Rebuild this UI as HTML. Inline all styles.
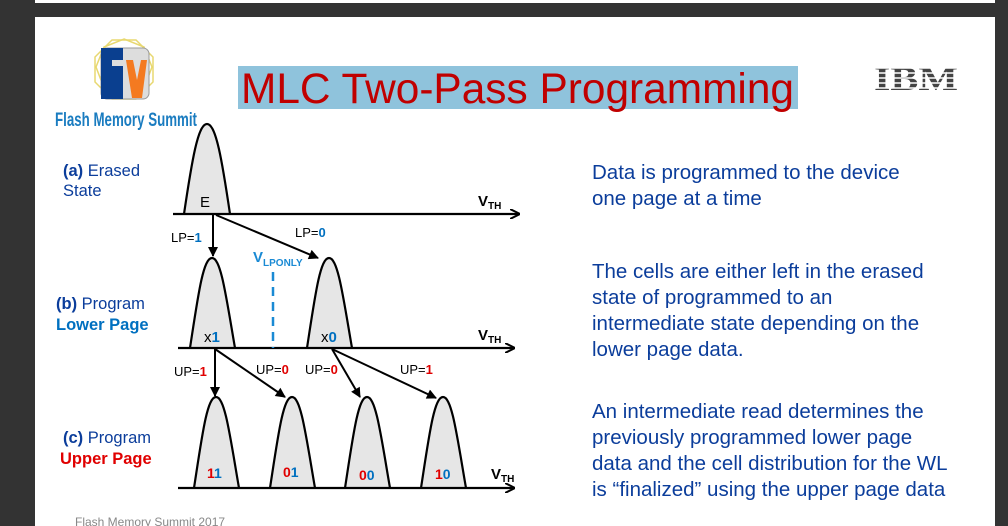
<!DOCTYPE html>
<html><head><meta charset="utf-8"><style>
html,body{margin:0;padding:0;background:#333;}
svg{display:block;font-family:"Liberation Sans",Arial,sans-serif;}
</style></head><body>
<svg width="1008" height="526" viewBox="0 0 1008 526" xmlns="http://www.w3.org/2000/svg">
<defs>
<marker id="ah" viewBox="0 0 10 10" refX="9" refY="5" markerWidth="11" markerHeight="10" orient="auto-start-reverse" markerUnits="userSpaceOnUse"><path d="M0,0 L10,5 L0,10 z" fill="#000"/></marker>
<marker id="oa" viewBox="0 0 10 10" refX="9" refY="5" markerWidth="10" markerHeight="10" orient="auto" markerUnits="userSpaceOnUse"><path d="M0,0 L10,5 L0,10" fill="none" stroke="#000" stroke-width="2"/></marker>
</defs>
<rect x="0" y="0" width="1008" height="526" fill="#333"/>
<rect x="35" y="0" width="960" height="3" fill="#fff"/>
<rect x="35" y="17" width="960" height="509" fill="#fff"/>

<!-- logo -->
<polygon points="112,40 136,40 153,57 153,82 136,99 112,99 95,82 95,57" fill="none" stroke="#e8d870" stroke-width="1.5"/>
<polygon points="124,39 144,47 152,67 144,88 124,96 104,88 96,67 104,47" fill="none" stroke="#e8d870" stroke-width="1.5"/>
<rect x="101" y="48" width="48" height="51" rx="6" fill="#ddd" stroke="#999"/>
<rect x="101" y="48" width="22" height="51" fill="#0a3f8f"/>
<rect x="112" y="60" width="14" height="6" fill="#ddd"/>
<polygon points="126,60 133,60 137,80 141,60 147,60 142,98 132,98" fill="#f47a20"/>
<text x="55" y="126" font-size="19" font-weight="bold" fill="#1a7cc0" textLength="142" lengthAdjust="spacingAndGlyphs">Flash Memory Summit</text>

<!-- title -->
<rect x="238" y="66" width="560" height="43" fill="#8fc3dc"/>
<text x="241" y="103" font-size="43" fill="#c00000" textLength="553" lengthAdjust="spacingAndGlyphs">MLC Two-Pass Programming</text>

<!-- IBM -->
<text x="874" y="90" font-size="34" font-family="Liberation Serif,serif" font-weight="bold" fill="#444" textLength="84" lengthAdjust="spacingAndGlyphs">IBM</text>
<g stroke="#fff" stroke-width="1.6">
<line x1="870" y1="63" x2="962" y2="63"/><line x1="870" y1="68" x2="962" y2="68"/><line x1="870" y1="73" x2="962" y2="73"/><line x1="870" y1="78" x2="962" y2="78"/><line x1="870" y1="83" x2="962" y2="83"/><line x1="870" y1="88" x2="962" y2="88"/>
</g>

<!-- left labels -->
<g font-size="16.5">
<text x="63" y="176" fill="#0b3d9b"><tspan font-weight="bold">(a)</tspan> Erased</text>
<text x="63" y="196" fill="#0b3d9b">State</text>
<text x="56" y="309" fill="#0b3d9b"><tspan font-weight="bold">(b)</tspan> Program</text>
<text x="56" y="330" fill="#0070c0" font-weight="bold">Lower Page</text>
<text x="63" y="443" fill="#0b3d9b"><tspan font-weight="bold">(c)</tspan> Program</text>
<text x="60" y="464" fill="#e00000" font-weight="bold">Upper Page</text>
</g>

<!-- curves -->
<g fill="#e6e6e6" stroke="#000" stroke-width="2.2">
<path d="M184,214 C192,160 198,124 207,124 C216,124 222,160 230,214"/>
<path d="M190,348 C198,296 203,258 212,258 C221,258 226,296 235,348"/>
<path d="M307,348 C315,296 320,258 329,258 C338,258 343,296 352,348"/>
<path d="M194,488 C202,436 207,397 216,397 C225,397 230,436 239,488"/>
<path d="M270,488 C278,436 283,397 292,397 C301,397 306,436 315,488"/>
<path d="M345,488 C353,436 358,397 367,397 C376,397 381,436 390,488"/>
<path d="M421,488 C429,436 434,397 443,397 C452,397 457,436 466,488"/>
</g>
<!-- axes -->
<g stroke="#000" stroke-width="2.2" fill="none">
<line x1="173" y1="214" x2="519" y2="214" marker-end="url(#oa)"/>
<line x1="178" y1="348" x2="514" y2="348" marker-end="url(#oa)"/>
<line x1="178" y1="488" x2="514" y2="488" marker-end="url(#oa)"/>
</g>
<line x1="273" y1="272" x2="273" y2="348" stroke="#1a8ad4" stroke-width="2.5" stroke-dasharray="9,6"/>
<!-- arrows -->
<g stroke="#000" stroke-width="2">
<line x1="213" y1="215" x2="213" y2="256" marker-end="url(#ah)"/>
<line x1="216" y1="215" x2="318" y2="258" marker-end="url(#ah)"/>
<line x1="215" y1="349" x2="215" y2="396" marker-end="url(#ah)"/>
<line x1="215" y1="349" x2="285" y2="397" marker-end="url(#ah)"/>
<line x1="332" y1="349" x2="360" y2="397" marker-end="url(#ah)"/>
<line x1="332" y1="349" x2="436" y2="398" marker-end="url(#ah)"/>
</g>

<!-- diagram labels -->
<g font-size="13">
<text x="171" y="242">LP=<tspan fill="#0070c0" font-weight="bold">1</tspan></text>
<text x="295" y="237">LP=<tspan fill="#0070c0" font-weight="bold">0</tspan></text>
<text x="174" y="376">UP=<tspan fill="#e00000" font-weight="bold">1</tspan></text>
<text x="256" y="374">UP=<tspan fill="#e00000" font-weight="bold">0</tspan></text>
<text x="305" y="374">UP=<tspan fill="#e00000" font-weight="bold">0</tspan></text>
<text x="400" y="374">UP=<tspan fill="#e00000" font-weight="bold">1</tspan></text>
</g>
<text x="253" y="262" fill="#1a8ad4" font-weight="bold" font-size="15">V<tspan font-size="10" dy="4">LPONLY</tspan></text>
<text x="200" y="207" font-size="15">E</text>
<text x="204" y="342" font-size="15">x<tspan fill="#0070c0" font-weight="bold">1</tspan></text>
<text x="321" y="342" font-size="15">x<tspan fill="#0070c0" font-weight="bold">0</tspan></text>
<g font-size="14" font-weight="bold">
<text x="207" y="478"><tspan fill="#e00000">1</tspan><tspan fill="#0070c0">1</tspan></text>
<text x="283" y="477"><tspan fill="#e00000">0</tspan><tspan fill="#0070c0">1</tspan></text>
<text x="359" y="480"><tspan fill="#e00000">0</tspan><tspan fill="#0070c0">0</tspan></text>
<text x="435" y="479"><tspan fill="#e00000">1</tspan><tspan fill="#0070c0">0</tspan></text>
</g>
<g font-weight="bold" font-size="15">
<text x="478" y="206">V<tspan font-size="10" dy="3">TH</tspan></text>
<text x="478" y="340">V<tspan font-size="10" dy="3">TH</tspan></text>
<text x="491" y="479">V<tspan font-size="10" dy="3">TH</tspan></text>
</g>

<!-- right text -->
<g font-size="20.5" fill="#0b3d9b">
<text x="592" y="179">Data is programmed to the device</text>
<text x="592" y="205">one page at a time</text>
<text x="592" y="278">The cells are either left in the erased</text>
<text x="592" y="304">state of programmed to an</text>
<text x="592" y="330">intermediate state depending on the</text>
<text x="592" y="356">lower page data.</text>
<text x="592" y="418">An intermediate read determines the</text>
<text x="592" y="444">previously programmed lower page</text>
<text x="592" y="470">data and the cell distribution for the WL</text>
<text x="592" y="496">is “finalized” using the upper page data</text>
</g>
<text x="75" y="526" font-size="12" fill="#888">Flash Memory Summit 2017</text>
</svg>
</body></html>
